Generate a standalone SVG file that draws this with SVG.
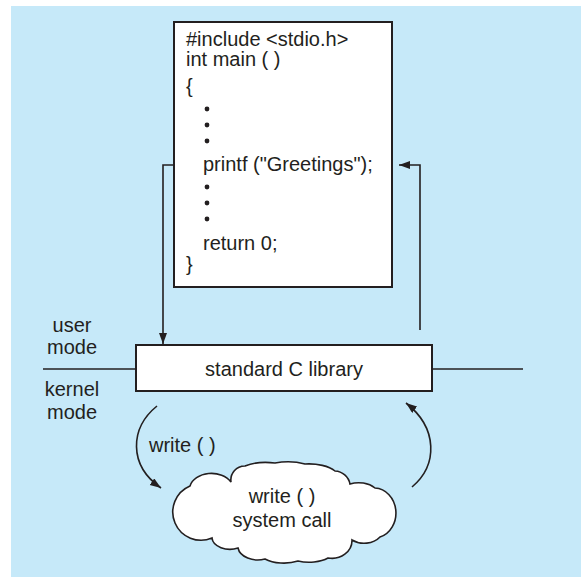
<svg xmlns="http://www.w3.org/2000/svg" width="581" height="577" viewBox="0 0 581 577">
<style>
.t{font-family:"Liberation Sans",Arial,sans-serif;font-size:20px;fill:#231f20}
.c{text-anchor:middle}
.box{fill:#ffffff;stroke:#231f20;stroke-width:2}
.ln{fill:none;stroke:#231f20;stroke-width:1.6}
</style>
<defs>
<marker id="ah" markerUnits="userSpaceOnUse" markerWidth="12" markerHeight="9" refX="11" refY="4" orient="auto">
<path d="M0,0 L11,4 L0,8 z" fill="#231f20"/>
</marker>
</defs>
<rect x="11" y="6" width="570" height="571" fill="#c6e9f9"/>
<g id="labels">
<text class="t c" x="72" y="332">user</text>
<text class="t c" x="72" y="354">mode</text>
<text class="t c" x="72" y="396">kernel</text>
<text class="t c" x="72" y="419">mode</text>
</g>
<g id="connectors">
<path class="ln" d="M43,369 H136"/>
<path class="ln" d="M432,369 H523"/>
<path class="ln" d="M198,165 H163 V344" marker-end="url(#ah)"/>
<path class="ln" d="M420,330 V165 H399" marker-end="url(#ah)"/>
<path class="ln" d="M157,406 C130,428 128,465 161,488" marker-end="url(#ah)"/>
<path class="ln" d="M412,487 C438,465 438,428 406,403" marker-end="url(#ah)"/>
<text class="t" x="149" y="452">write ( )</text>
</g>
<g id="program">
<rect class="box" x="174" y="22" width="218" height="265"/>
<text class="t" x="186" y="46">#include &lt;stdio.h&gt;</text>
<text class="t" x="186" y="66">int main ( )</text>
<text class="t" x="186" y="93">{</text>
<circle cx="207" cy="109" r="2.4" fill="#231f20"/>
<circle cx="207" cy="125" r="2.4" fill="#231f20"/>
<circle cx="207" cy="141" r="2.4" fill="#231f20"/>
<text class="t" x="203" y="171">printf ("Greetings");</text>
<circle cx="207" cy="187" r="2.4" fill="#231f20"/>
<circle cx="207" cy="203" r="2.4" fill="#231f20"/>
<circle cx="207" cy="219" r="2.4" fill="#231f20"/>
<text class="t" x="203" y="250">return 0;</text>
<text class="t" x="186" y="271">}</text>
</g>
<g id="library">
<rect class="box" x="136" y="345" width="296" height="46"/>
<text class="t c" x="284" y="376">standard C library</text>
</g>
<g id="syscall">
<path fill="#ffffff" stroke="#231f20" stroke-width="1.6" d="M231,482 A14,14 0 0 1 245,466 A30,12 0 0 1 275,463 A30,12 0 0 1 305,464 A30,14 0 0 1 335,471 A16,16 0 0 1 350,484 A22,16 0 0 1 375,488 A22,25 0 0 1 380,537 A20,16 0 0 1 352,540 A20,18 0 0 1 328,558 A25,12 0 0 1 298,561 A25,12 0 0 1 265,559 A20,14 0 0 1 238,548 A18,12 0 0 1 212,538 A28,28 0 0 1 190,486 A22,16 0 0 1 231,482 Z"/>
<text class="t c" x="282" y="503">write ( )</text>
<text class="t c" x="282" y="527">system call</text>
</g>
</svg>
